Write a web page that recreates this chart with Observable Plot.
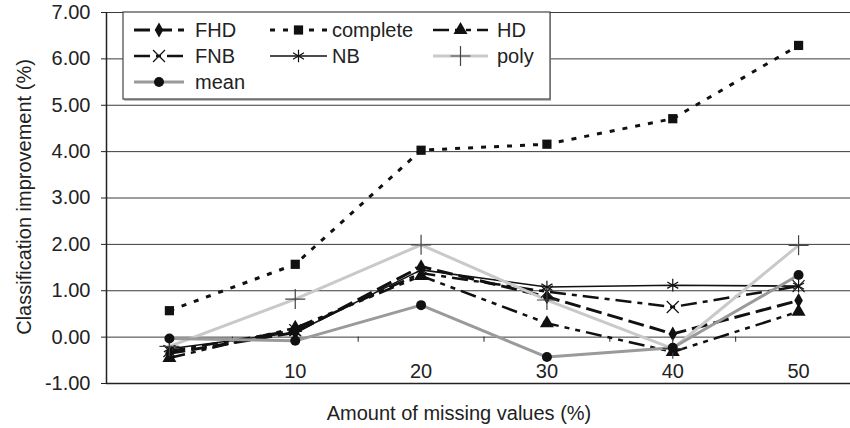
<!DOCTYPE html>
<html>
<head>
<meta charset="utf-8">
<script src="https://cdn.jsdelivr.net/npm/d3@7"></script>
<script src="https://cdn.jsdelivr.net/npm/@observablehq/plot@0.6"></script>
<style>
  html, body { margin: 0; padding: 0; background: #fff; }
  #chart svg { display: block; }
</style>
</head>
<body>
<div id="chart"></div>
<script>
// ---- data ----
const categories = ["", "10", "20", "30", "40", "50"];
const FHD      = [-0.35, 0.10, 1.52, 0.87, 0.07, 0.79];
const complete = [ 0.57, 1.57, 4.03, 4.16, 4.71, 6.29];
const HD       = [-0.45, 0.20, 1.32, 0.30, -0.32, 0.55];
const FNB      = [-0.30, 0.15, 1.38, 0.98, 0.65, 1.10];
const NB       = [-0.25, 0.10, 1.45, 1.08, 1.12, 1.10];
const poly     = [-0.20, 0.82, 1.99, 0.80, -0.25, 1.98];
const mean     = [-0.03, -0.08, 0.69, -0.43, -0.23, 1.34];
const yTicks   = [-1, 0, 1, 2, 3, 4, 5, 6, 7];
const yTitle = "Classification improvement (%)";
const xTitle = "Amount of missing values (%)";

// ---- styles ----
const styles = {
  FHD:      {values: FHD,      stroke: "#111", width: 3,   dash: "16,6",           symbol: "diamond",  r: 4.5, filled: true},
  complete: {values: complete, stroke: "#111", width: 3,   dash: "5,8",            symbol: "square",   r: 5.2, filled: true},
  HD:       {values: HD,       stroke: "#111", width: 2.5, dash: "16,6,5,6,5,6",   symbol: "triangle", r: 5.2, filled: true},
  FNB:      {values: FNB,      stroke: "#111", width: 2.5, dash: "16,6,5,6",       symbol: "times",    r: 5.5, filled: false},
  NB:       {values: NB,       stroke: "#111", width: 1.6, dash: null,             symbol: "asterisk", r: 6,   filled: false},
  poly:     {values: poly,     stroke: "#c9c9c9", width: 3, dash: null,            symbol: "plus",     r: 6.5, filled: false, markColor: "#444"},
  mean:     {values: mean,     stroke: "#9a9a9a", width: 3, dash: null,            symbol: "circle",   r: 5,   filled: true}
};
const order = ["FHD", "complete", "HD", "FNB", "NB", "poly", "mean"];

const rows = name => styles[name].values.map((v, i) => ({i, v}));

const marks = [
  Plot.gridY(yTicks, {stroke: "#3a3a3a", strokeOpacity: 1, strokeWidth: 1}),
  Plot.ruleY([-1], {stroke: "#222", strokeWidth: 1.5}),
  Plot.ruleX([-0.5], {stroke: "#222", strokeWidth: 1.5}),
  Plot.ruleX([0.5, 1.5, 2.5, 3.5, 4.5, 5.5], {y1: 0, y2: -0.11, stroke: "#222"}),
  Plot.axisY(yTicks, {label: null, tickFormat: d => d.toFixed(2), tickSize: 5, tickPadding: 11, fontSize: 20, fill: "#222", stroke: "#222"}),
  Plot.text(categories.map((c, i) => ({i, c})), {x: "i", y: () => -1, text: "c", dy: -12, fontSize: 20, fill: "#222"})
];

for (const name of order) {
  const s = styles[name];
  marks.push(Plot.line(rows(name), {
    x: "i", y: "v", stroke: s.stroke, strokeWidth: s.width,
    strokeDasharray: s.dash || undefined, strokeLinejoin: "miter", strokeLinecap: "butt"
  }));
}
for (const name of order) {
  const s = styles[name];
  const c = s.markColor || "#111";
  marks.push(Plot.dot(rows(name), {
    x: "i", y: "v", symbol: s.symbol, r: s.r,
    fill: s.filled ? c : "none", stroke: s.filled ? "none" : c, strokeWidth: 1.2
  }));
}

const chart = Plot.plot({
  width: 850,
  height: 428,
  marginLeft: 106,
  marginRight: 0,
  marginTop: 12,
  marginBottom: 45,
  x: {type: "linear", domain: [-0.5, 5.5], range: [106, 861], axis: null},
  y: {domain: [-1, 7], range: [383, 12], axis: null},
  style: {fontFamily: "'Liberation Sans', Arial, sans-serif", fontSize: "20px", background: "#fff", color: "#222"},
  marks
});

// ---- titles & legend (overlay in the same SVG) ----
const svg = d3.select(chart);
const font = "'Liberation Sans', Arial, sans-serif";

svg.append("text")
  .attr("transform", "translate(24,197) rotate(-90)")
  .attr("text-anchor", "middle").attr("dominant-baseline", "central")
  .attr("font-family", font).attr("font-size", 20).attr("fill", "#222")
  .text(yTitle);

svg.append("text")
  .attr("x", 459).attr("y", 413)
  .attr("text-anchor", "middle").attr("dominant-baseline", "central")
  .attr("font-family", font).attr("font-size", 20).attr("fill", "#222")
  .text(xTitle);

const lg = svg.append("g");
lg.append("rect").attr("x", 124).attr("y", 13).attr("width", 427).attr("height", 88).attr("fill", "#bbb");
lg.append("rect").attr("x", 123).attr("y", 12).attr("width", 427).attr("height", 87)
  .attr("fill", "#fff").attr("stroke", "#444").attr("stroke-width", 1.2);

const symMap = {
  diamond: d3.symbolDiamond, square: d3.symbolSquare, triangle: d3.symbolTriangle,
  times: d3.symbolTimes, asterisk: d3.symbolAsterisk, plus: d3.symbolPlus, circle: d3.symbolCircle
};
const legendItems = [
  {name: "FHD", col: 0, row: 0}, {name: "complete", col: 1, row: 0}, {name: "HD", col: 2, row: 0},
  {name: "FNB", col: 0, row: 1}, {name: "NB", col: 1, row: 1}, {name: "poly", col: 2, row: 1},
  {name: "mean", col: 0, row: 2}
];
const colX = [[134, 184, 195], [270, 327, 332], [433, 488, 497]];
const rowY = [30, 56, 82];
for (const it of legendItems) {
  const s = styles[it.name];
  const [x1, x2, tx] = colX[it.col];
  const y = rowY[it.row];
  lg.append("line").attr("x1", x1).attr("x2", x2).attr("y1", y).attr("y2", y)
    .attr("stroke", s.stroke).attr("stroke-width", s.width)
    .attr("stroke-dasharray", s.dash);
  const c = s.markColor || "#111";
  lg.append("path")
    .attr("d", d3.symbol(symMap[s.symbol], Math.PI * s.r * s.r)())
    .attr("transform", `translate(${(x1 + x2) / 2},${y})`)
    .attr("fill", s.filled ? c : "none").attr("stroke", s.filled ? "none" : c).attr("stroke-width", 1.2);
  lg.append("text").attr("x", tx).attr("y", y).attr("dominant-baseline", "central")
    .attr("text-anchor", "start")
    .attr("font-family", font).attr("font-size", 20).attr("fill", "#222")
    .text(it.name);
}

document.getElementById("chart").appendChild(chart);
</script>
</body>
</html>
